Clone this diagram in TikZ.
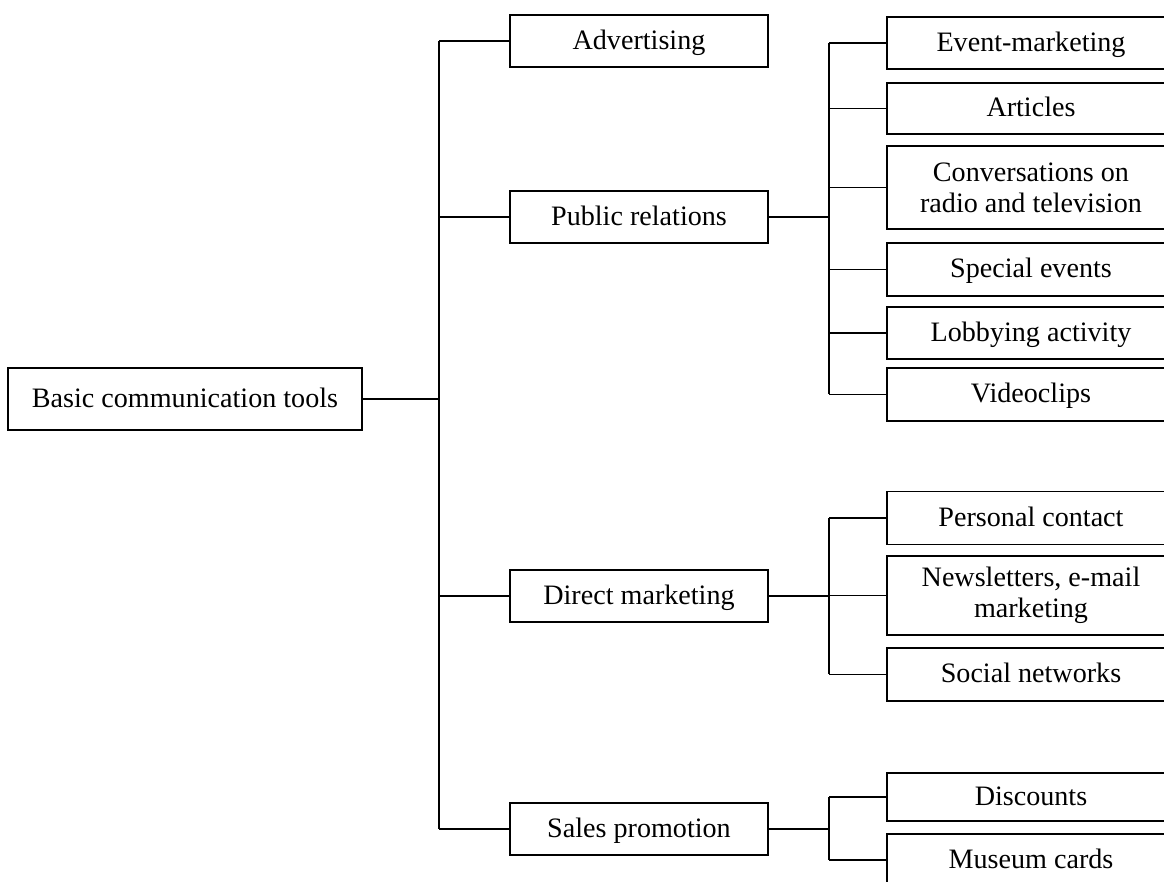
\documentclass[tikz,border=0pt]{standalone}
\usepackage{fontspec}
\setmainfont{Liberation Serif}

\tikzset{
  toolbox/.style={draw, line width=0.6pt, inner sep=0pt, align=center,
    font=\fontsize{16}{17.5}\selectfont},
  oneline/.style={text height=12pt, text depth=2.5pt},
  rootbox/.style={toolbox, oneline, minimum width=7.08cm, minimum height=1.24cm},
  groupbox/.style={toolbox, oneline, minimum width=5.16cm, minimum height=1.04cm},
  itembox/.style={toolbox, minimum width=5.76cm},
  oneitem/.style={itembox, oneline},
  link/.style={line width=0.6pt}
}

\begin{document}
\begin{tikzpicture}
                \useasboundingbox (0,0) rectangle (23.280000,17.640000);
                \clip (0,0) rectangle (23.280000,17.640000);
                {
                
                % Marking trunk lines
                \coordinate (trunk) at (8.780000,0.000000);
                \coordinate (subtrunk) at (16.580000,0.000000);
                
                % Drawing box root
                \draw (3.700000,9.660000) node [rootbox] (root) {Basic communication tools};%
                
                % Drawing box Advertising
                \draw (12.780000,16.820000) node [groupbox] (adv) {Advertising};%
                
                % Drawing box Public relations
                \draw (12.780000,13.300000) node [groupbox] (pr) {Public relations};%
                
                % Drawing box Direct marketing
                \draw (12.780000,5.720000) node [groupbox] (dm) {Direct marketing};%
                
                % Drawing box Sales promotion
                \draw (12.780000,1.060000) node [groupbox] (sp) {Sales promotion};%
                
                % Drawing boxes under Public relations
                \draw (20.620000,16.780000) node [oneitem, minimum height=1.04cm] (event) {Event-marketing};%
                \draw (20.620000,15.470000) node [oneitem, minimum height=1.02cm] (art) {Articles};%
                \draw (20.620000,13.890000) node [itembox, minimum height=1.66cm] (conv) {Conversations on\\radio and television};%
                \draw (20.620000,12.250000) node [oneitem, minimum height=1.06cm] (spev) {Special events};%
                \draw (20.620000,10.980000) node [oneitem, minimum height=1.04cm] (lobby) {Lobbying activity};%
                \draw (20.620000,9.750000) node [oneitem, minimum height=1.06cm] (video) {Videoclips};%
                
                % Drawing boxes under Direct marketing
                \draw (20.620000,7.280000) node [oneitem, minimum height=1.06cm] (pers) {Personal contact};%
                \draw (20.620000,5.730000) node [itembox, minimum height=1.58cm] (news) {Newsletters, e-mail\\marketing};%
                \draw (20.620000,4.150000) node [oneitem, minimum height=1.06cm] (soc) {Social networks};%
                
                % Drawing boxes under Sales promotion
                \draw (20.620000,1.700000) node [oneitem, minimum height=0.96cm] (disc) {Discounts};%
                \draw (20.620000,0.440000) node [oneitem, minimum height=1.04cm] (mus) {Museum cards};%
                
                % Drawing segment root trunk
                \draw [link] (root.east) -- (root.east -| trunk);%
                
                % Drawing trunk adv sp
                \draw [link] (adv.west -| trunk) -- (sp.west -| trunk);%
                
                % Drawing segments trunk to groups
                \draw [link] (adv.west -| trunk) -- (adv.west);%
                \draw [link] (pr.west -| trunk) -- (pr.west);%
                \draw [link] (dm.west -| trunk) -- (dm.west);%
                \draw [link] (sp.west -| trunk) -- (sp.west);%
                
                % Drawing Public relations branch
                \draw [link] (pr.east) -- (pr.east -| subtrunk);%
                \draw [link] (event.west -| subtrunk) -- (video.west -| subtrunk);%
                \draw [link] (event.west -| subtrunk) -- (event.west);%
                \draw [link] (art.west -| subtrunk) -- (art.west);%
                \draw [link] (conv.west -| subtrunk) -- (conv.west);%
                \draw [link] (spev.west -| subtrunk) -- (spev.west);%
                \draw [link] (lobby.west -| subtrunk) -- (lobby.west);%
                \draw [link] (video.west -| subtrunk) -- (video.west);%
                
                % Drawing Direct marketing branch
                \draw [link] (dm.east) -- (dm.east -| subtrunk);%
                \draw [link] (pers.west -| subtrunk) -- (soc.west -| subtrunk);%
                \draw [link] (pers.west -| subtrunk) -- (pers.west);%
                \draw [link] (news.west -| subtrunk) -- (news.west);%
                \draw [link] (soc.west -| subtrunk) -- (soc.west);%
                
                % Drawing Sales promotion branch
                \draw [link] (sp.east) -- (sp.east -| subtrunk);%
                \draw [link] (disc.west -| subtrunk) -- (mus.west -| subtrunk);%
                \draw [link] (disc.west -| subtrunk) -- (disc.west);%
                \draw [link] (mus.west -| subtrunk) -- (mus.west);%
                }
            \end{tikzpicture}
\end{document}
